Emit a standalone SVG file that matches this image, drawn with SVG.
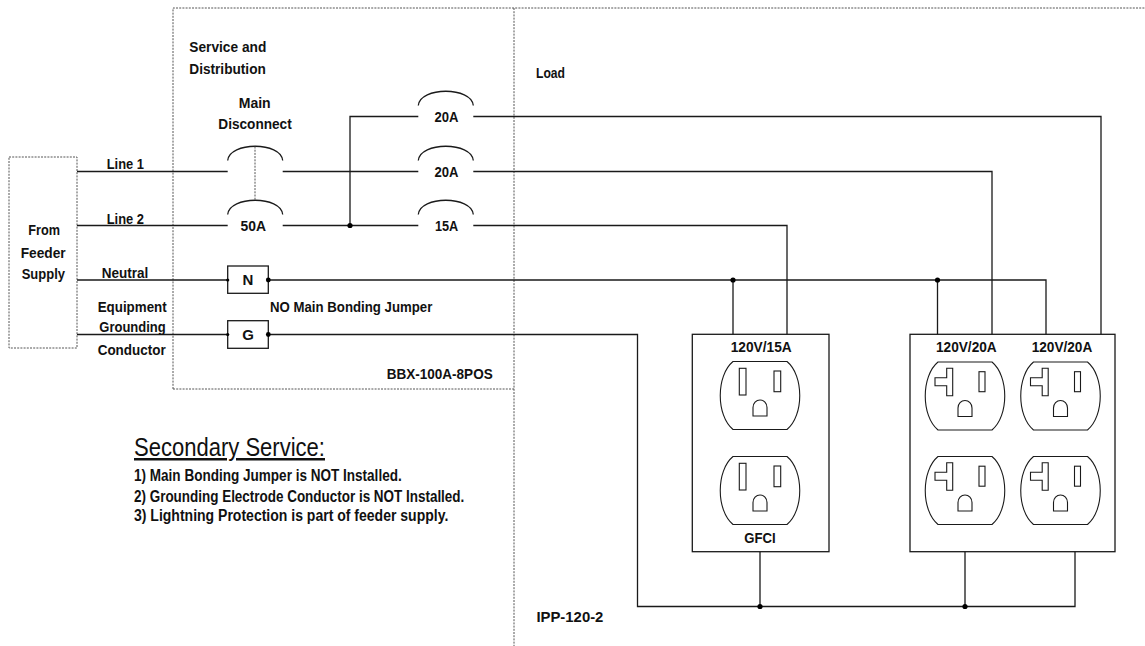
<svg xmlns="http://www.w3.org/2000/svg" xmlns:xlink="http://www.w3.org/1999/xlink" width="1145" height="646" viewBox="0 0 1145 646">
<style>
.w{stroke:#1a1a1a;stroke-width:1.3;fill:none}
.d{stroke:#555;stroke-width:1;stroke-dasharray:2 1.2;fill:none}
.o{stroke:#1a1a1a;stroke-width:1.1;fill:#fff}
.t{font-family:"Liberation Sans",Arial,sans-serif;font-size:15px;font-weight:bold;fill:#111}
.n{font-family:"Liberation Sans",Arial,sans-serif;font-size:16px;font-weight:bold;fill:#111}
.h{font-family:"Liberation Sans",Arial,sans-serif;font-size:25px;fill:#111;text-decoration:underline}
.dot{fill:#000}
</style>
<defs>
<path id="plate" d="M-27,-34 H27 C44,-20 44,20 27,34 H-27 C-44,20 -44,-20 -27,-34 Z"/>
<path id="gnd" d="M-7,20.5 V12 A7,7.5 0 0 1 7,12 V20.5 Z"/>
<g id="out15">
<use xlink:href="#plate" class="o"/>
<rect x="-20.7" y="-27.2" width="6.7" height="26.7" class="o"/>
<rect x="14" y="-24.5" width="6.7" height="20.7" class="o"/>
<use xlink:href="#gnd" class="o"/>
</g>
<g id="out20">
<use xlink:href="#plate" class="o"/>
<path d="M-12.3,-27.7 H-18.3 V-18.3 H-30 V-10.3 H-18.3 V-0.3 H-12.3 Z" class="o"/>
<rect x="14" y="-24.3" width="6" height="20" class="o"/>
<use xlink:href="#gnd" class="o"/>
</g>
</defs>
<rect width="1145" height="646" fill="#fff"/>

<g id="feeder-supply">
<rect x="9" y="157" width="68" height="191" class="d"/>
<text class="t" x="28.3" y="235" textLength="31.7" lengthAdjust="spacingAndGlyphs">From</text>
<text class="t" x="20.7" y="258.3" textLength="45" lengthAdjust="spacingAndGlyphs">Feeder</text>
<text class="t" x="21.7" y="279.3" textLength="43.3" lengthAdjust="spacingAndGlyphs">Supply</text>
</g>

<g id="service-distribution">
<path d="M173,389 V8 H1145 M173,389 H514 M514,8 V646" class="d"/>
<text class="t" x="189.3" y="51.5" textLength="77" lengthAdjust="spacingAndGlyphs">Service and</text>
<text class="t" x="189.3" y="73.5" textLength="76.5" lengthAdjust="spacingAndGlyphs">Distribution</text>
<text class="t" x="386.7" y="379.3" textLength="106" lengthAdjust="spacingAndGlyphs">BBX-100A-8POS</text>
</g>

<g id="load-area">
<text class="t" x="536" y="78" textLength="29" lengthAdjust="spacingAndGlyphs">Load</text>
<text class="t" x="536.4" y="622" textLength="67" lengthAdjust="spacingAndGlyphs">IPP-120-2</text>
</g>

<g id="main-disconnect">
<path d="M227.7,160.5 C229.2,141.5 281.2,141.5 282.7,160.5 M227.7,214.5 C229.2,195.5 281.2,195.5 282.7,214.5" class="w"/>
<path d="M255,146.5 V200.5" class="d"/>
<text class="t" x="238.7" y="108" textLength="32" lengthAdjust="spacingAndGlyphs">Main</text>
<text class="t" x="218.3" y="129.3" textLength="73.4" lengthAdjust="spacingAndGlyphs">Disconnect</text>
<text class="t" x="240.5" y="231" textLength="25.5" lengthAdjust="spacingAndGlyphs">50A</text>
</g>

<g id="breaker-20a-top">
<path d="M418.3,105.5 C419.8,86.5 471.8,86.5 473.3,105.5" class="w"/>
<text class="t" x="434.5" y="122" textLength="24" lengthAdjust="spacingAndGlyphs">20A</text>
</g>
<g id="breaker-20a-mid">
<path d="M418.3,160.5 C419.8,141.5 471.8,141.5 473.3,160.5" class="w"/>
<text class="t" x="434.5" y="177" textLength="24" lengthAdjust="spacingAndGlyphs">20A</text>
</g>
<g id="breaker-15a">
<path d="M418.3,214.5 C419.8,195.5 471.8,195.5 473.3,214.5" class="w"/>
<text class="t" x="435" y="231" textLength="23.3" lengthAdjust="spacingAndGlyphs">15A</text>
</g>

<g id="neutral-bar">
<rect x="227.7" y="266" width="40.6" height="27.3" class="w"/>
<text class="t" x="248" y="285" text-anchor="middle">N</text>
</g>
<g id="ground-bar">
<rect x="227.7" y="320.7" width="40.6" height="27.6" class="w"/>
<text class="t" x="248" y="340" text-anchor="middle">G</text>
</g>

<g id="receptacle-15a">
<rect x="692.3" y="334.3" width="136.7" height="217.4" class="w"/>
<text class="t" x="730.7" y="351.7" textLength="61" lengthAdjust="spacingAndGlyphs">120V/15A</text>
<use xlink:href="#out15" x="760" y="395.5"/>
<use xlink:href="#out15" x="760" y="490.5"/>
<text class="t" x="744.3" y="542.7" textLength="31.4" lengthAdjust="spacingAndGlyphs">GFCI</text>
</g>

<g id="receptacle-20a">
<rect x="910" y="334.3" width="205" height="217.4" class="w"/>
<text class="t" x="936" y="351.7" textLength="60.7" lengthAdjust="spacingAndGlyphs">120V/20A</text>
<text class="t" x="1031.7" y="351.7" textLength="60.6" lengthAdjust="spacingAndGlyphs">120V/20A</text>
<use xlink:href="#out20" x="965" y="396"/>
<use xlink:href="#out20" x="1060.5" y="396"/>
<use xlink:href="#out20" x="965" y="490.5"/>
<use xlink:href="#out20" x="1060.5" y="490.5"/>
</g>

<g id="connectors">
<path class="w" d="M77,171.5 H227.7 M282.7,171.5 H418.3 M473.3,171.5 H992 V334.3"/>
<path class="w" d="M77,225.5 H227.7 M282.7,225.5 H418.3 M473.3,225.5 H787 V334.3"/>
<path class="w" d="M350,225.5 V116.5 H418.3 M473.3,116.5 H1101 V334.3"/>
<path class="w" d="M77,280 H227.7 M268.3,280 H1046 V334.3 M733,280 V334.3 M937.5,280 V334.3"/>
<path class="w" d="M77,334.5 H227.7 M268.3,334.5 H637.5 V606.5 H1075 V551.7 M760,551.7 V606.5 M965,551.7 V606.5"/>
<circle class="dot" cx="350" cy="225.5" r="2.6"/>
<circle class="dot" cx="733" cy="280" r="2.6"/>
<circle class="dot" cx="937.5" cy="280" r="2.6"/>
<circle class="dot" cx="760" cy="606.5" r="2.6"/>
<circle class="dot" cx="965" cy="606.5" r="2.6"/>
<circle class="dot" cx="227.7" cy="280" r="1.6"/>
<circle class="dot" cx="268.3" cy="280" r="2.4"/>
<circle class="dot" cx="227.7" cy="334.5" r="1.6"/>
<circle class="dot" cx="268.3" cy="334.5" r="2.4"/>
</g>

<g id="line-labels">
<text class="t" x="106.7" y="169.3" textLength="37.3" lengthAdjust="spacingAndGlyphs">Line 1</text>
<text class="t" x="106.7" y="224" textLength="37.3" lengthAdjust="spacingAndGlyphs">Line 2</text>
<text class="t" x="101.7" y="277.7" textLength="46.6" lengthAdjust="spacingAndGlyphs">Neutral</text>
<text class="t" x="97.7" y="311.7" textLength="69" lengthAdjust="spacingAndGlyphs">Equipment</text>
<text class="t" x="99.3" y="331.7" textLength="66.4" lengthAdjust="spacingAndGlyphs">Grounding</text>
<text class="t" x="97.7" y="355" textLength="68" lengthAdjust="spacingAndGlyphs">Conductor</text>
<text class="t" x="270" y="311.7" textLength="162.3" lengthAdjust="spacingAndGlyphs">NO Main Bonding Jumper</text>
</g>

<g id="notes">
<text class="h" x="134" y="456" textLength="191" lengthAdjust="spacingAndGlyphs">Secondary Service:</text>
<text class="n" x="134" y="481" textLength="267.7" lengthAdjust="spacingAndGlyphs">1) Main Bonding Jumper is NOT Installed.</text>
<text class="n" x="134" y="501.7" textLength="330.3" lengthAdjust="spacingAndGlyphs">2) Grounding Electrode Conductor is NOT Installed.</text>
<text class="n" x="134" y="521" textLength="314.3" lengthAdjust="spacingAndGlyphs">3) Lightning Protection is part of feeder supply.</text>
</g>
</svg>
